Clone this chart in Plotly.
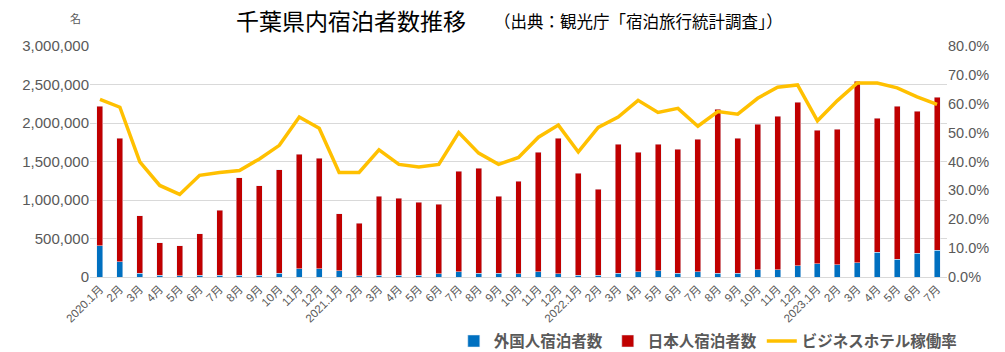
import plotly.graph_objects as go

months = ["2020.1月","2月","3月","4月","5月","6月","7月","8月","9月","10月","11月","12月",
          "2021.1月","2月","3月","4月","5月","6月","7月","8月","9月","10月","11月","12月",
          "2022.1月","2月","3月","4月","5月","6月","7月","8月","9月","10月","11月","12月",
          "2023.1月","2月","3月","4月","5月","6月","7月"]

total = [2218000, 1803000, 795000, 445000, 406000, 562000, 869000, 1288000, 1184000, 1392000, 1595000, 1543000,
         819000, 700000, 1051000, 1025000, 973000, 947000, 1375000, 1414000, 1051000, 1245000, 1621000, 1803000,
         1349000, 1141000, 1725000, 1621000, 1725000, 1660000, 1790000, 2179000, 1803000, 1984000, 2088000, 2270000,
         1907000, 1920000, 2542000, 2062000, 2218000, 2153000, 2335000]

foreign = [406000, 199000, 52000, 26000, 15000, 26000, 26000, 26000, 26000, 52000, 104000, 104000,
           78000, 15000, 26000, 26000, 26000, 43000, 69000, 52000, 52000, 43000, 69000, 43000,
           26000, 26000, 52000, 69000, 78000, 52000, 69000, 52000, 52000, 95000, 95000, 143000,
           173000, 156000, 186000, 324000, 233000, 311000, 350000]

japanese = [t - f for t, f in zip(total, foreign)]

occupancy = [61.5, 58.8, 39.9, 31.7, 28.6, 35.2, 36.2, 36.9, 40.9, 45.6, 55.4, 51.5,
             36.2, 36.2, 44.0, 39.0, 38.1, 39.0, 50.0, 42.9, 39.0, 41.4, 48.4, 52.6,
             43.3, 51.8, 55.4, 61.2, 57.0, 58.4, 52.2, 57.3, 56.4, 61.9, 65.7, 66.5,
             54.1, 61.1, 67.2, 67.2, 65.5, 62.4, 59.8]
occupancy = [v / 100 for v in occupancy]

x = list(range(len(months)))
FONT = "Liberation Sans, Arial, Noto Sans CJK JP, sans-serif"
JFONT = "Noto Sans CJK JP, sans-serif"

fig = go.Figure()
fig.add_trace(go.Bar(x=x, y=foreign, name="<b>外国人宿泊者数</b>", marker_color="#0070C0", width=0.3))
fig.add_trace(go.Bar(x=x, y=japanese, name="<b>日本人宿泊者数</b>", marker_color="#C00000", width=0.3))
fig.add_trace(go.Scatter(x=x, y=occupancy, name="<b>ビジネスホテル稼働率</b>", mode="lines",
                         line=dict(color="#FFC000", width=3.5), yaxis="y2"))

fig.update_layout(
    width=1005, height=352,
    margin=dict(l=90, r=58, t=46, b=75),
    barmode="stack",
    plot_bgcolor="white", paper_bgcolor="white",
    font=dict(family=FONT, color="#595959"),
    xaxis=dict(tickmode="array", tickvals=x, ticktext=months, tickangle=-45,
               tickfont=dict(size=11.5, family=FONT), range=[-0.5, len(months) - 0.5],
               showgrid=False, showline=True, linecolor="#d9d9d9", ticks="", automargin=False),
    yaxis=dict(range=[0, 3000000], dtick=500000, tickformat=",", tickfont=dict(size=15),
               gridcolor="#d9d9d9", zeroline=False, ticks="", automargin=False),
    yaxis2=dict(range=[0, 0.8], dtick=0.1, tickformat=".1%", overlaying="y", side="right",
                tickfont=dict(size=14.5), showgrid=False, zeroline=False, automargin=False),
    legend=dict(orientation="h", xref="container", yref="container",
                x=0.958, xanchor="right", y=0.03, yanchor="middle",
                font=dict(size=15.5, family=JFONT, color="#595959"),
                traceorder="normal"),
    showlegend=True,
)

fig.add_annotation(text="千葉県内宿泊者数推移", xref="paper", yref="paper",
                   x=(234 - 90) / 857, y=1 + (46 - 20) / 231, xanchor="left", yanchor="middle",
                   showarrow=False, font=dict(size=23, family=JFONT, color="#000000"))
fig.add_annotation(text="（出典：観光庁「宿泊旅行統計調査」）", xref="paper", yref="paper",
                   x=(492 - 90) / 857, y=1 + (46 - 21) / 231, xanchor="left", yanchor="middle",
                   showarrow=False, font=dict(size=16.5, family=JFONT, color="#000000"))
fig.add_annotation(text="名", xref="paper", yref="paper",
                   x=(75 - 90) / 857, y=1 + (46 - 18) / 231, xanchor="center", yanchor="middle",
                   showarrow=False, font=dict(size=11, family=JFONT, color="#595959"))

fig.write_html("out.html")
